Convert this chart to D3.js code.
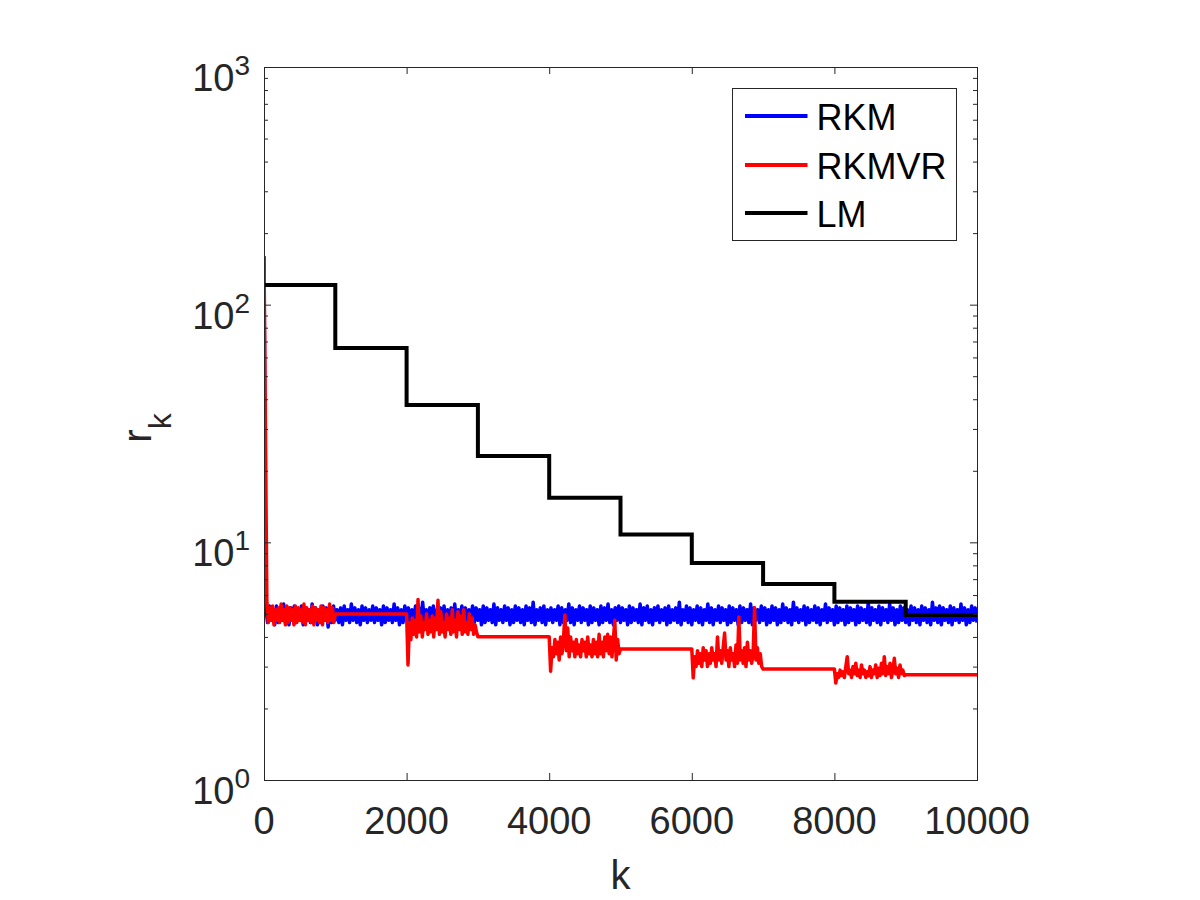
<!DOCTYPE html>
<html>
<head>
<meta charset="utf-8">
<script src="https://cdn.jsdelivr.net/npm/d3@7"></script>
<style>
  body { margin: 0; background: #fff; }
  text { font-family: "Liberation Sans", Arial, Helvetica, sans-serif; }
</style>
</head>
<body>
<svg id="chart" width="1200" height="900"></svg>
<script>
// axis ticks
var xTicks = [0, 2000, 4000, 6000, 8000, 10000];
var yTicks = [1, 10, 100, 1000];
var yExp = ["0", "1", "2", "3"];

var names = ["RKM", "RKMVR", "LM"];
var colors = ["#0000ff", "#ff0000", "#000000"];

// RKM residual, one value every 25 iterations (k = 0 .. 10000)
var rkmStep = 25;
var rkmR = [160,
  5.3,4.6,5.4,4.7,5.2,4.5,5.4,4.6,5.3,4.7,5.5,4.6,5.2,4.5,5.3,4.7,5.4,4.6,5.2,4.7,
  5.4,4.5,5.3,4.7,5.2,4.6,5.5,4.7,5.3,4.5,5.2,4.6,5.4,4.7,5.3,4.4,5.2,4.6,5.4,4.7,
  5.2,4.6,5.3,4.5,5.4,4.7,5.2,4.6,5.5,4.7,5.3,4.6,5.2,4.5,5.4,4.7,5.3,4.6,5.2,4.7,
  5.4,4.6,5.3,4.7,5.2,4.5,5.4,4.6,5.3,4.7,5.2,4.6,5.5,4.7,5.3,4.5,5.2,4.6,5.4,4.7,
  5.3,4.5,5.2,4.7,5.4,4.6,5.3,4.7,5.6,4.6,5.2,4.5,5.3,4.7,5.4,4.6,5.2,4.7,5.3,4.5,
  5.4,4.6,5.2,4.7,5.3,4.5,5.5,4.6,5.2,4.7,5.4,4.6,5.3,4.5,5.2,4.7,5.4,4.6,5.3,4.7,
  5.2,4.5,5.4,4.6,5.3,4.7,5.2,4.6,5.5,4.5,5.3,4.7,5.2,4.6,5.4,4.7,5.3,4.5,5.2,4.6,
  5.4,4.7,5.3,4.6,5.2,4.5,5.4,4.7,5.3,4.6,5.6,4.5,5.2,4.7,5.3,4.6,5.4,4.5,5.2,4.7,
  5.3,4.6,5.2,4.7,5.4,4.5,5.3,4.6,5.2,4.7,5.5,4.6,5.3,4.5,5.2,4.7,5.4,4.6,5.3,4.7,
  5.2,4.5,5.4,4.6,5.3,4.7,5.2,4.5,5.4,4.6,5.3,4.7,5.5,4.6,5.2,4.5,5.3,4.7,5.4,4.6,
  5.3,4.7,5.2,4.5,5.4,4.6,5.3,4.7,5.2,4.6,5.5,4.5,5.3,4.7,5.4,4.6,5.2,4.5,5.3,4.7,
  5.4,4.6,5.2,4.7,5.3,4.5,5.4,4.6,5.2,4.7,5.3,4.6,5.6,4.5,5.2,4.7,5.4,4.6,5.3,4.5,
  5.2,4.7,5.4,4.6,5.3,4.5,5.2,4.7,5.5,4.6,5.3,4.5,5.2,4.7,5.4,4.6,5.3,4.7,5.2,4.5,
  5.4,4.6,5.3,4.7,5.2,4.5,5.4,4.6,5.3,4.7,5.2,4.6,5.5,4.5,5.3,4.7,5.2,4.6,5.4,4.7,
  5.3,4.5,5.2,4.6,5.4,4.7,5.3,4.5,5.2,4.6,5.5,4.7,5.3,4.6,5.2,4.5,5.6,4.7,5.3,4.6,
  5.2,4.7,5.4,4.5,5.3,4.6,5.2,4.7,5.4,4.6,5.3,4.5,5.2,4.7,5.5,4.6,5.3,4.7,5.2,4.5,
  5.4,4.6,5.3,4.7,5.2,4.5,5.4,4.6,5.3,4.7,5.2,4.5,5.4,4.6,5.3,4.7,5.2,4.6,5.6,4.5,
  5.3,4.7,5.2,4.6,5.4,4.5,5.3,4.7,5.2,4.6,5.5,4.7,5.3,4.5,5.2,4.6,5.4,4.7,5.3,4.6,
  5.2,4.5,5.4,4.7,5.3,4.6,5.2,4.5,5.4,4.7,5.3,4.6,5.2,4.5,5.6,4.7,5.3,4.6,5.4,4.5,
  5.3,4.7,5.2,4.6,5.4,4.5,5.3,4.7,5.2,4.6,5.5,4.7,5.3,4.5,5.2,4.6,5.4,4.7,5.3,4.6
];

// RKMVR: noisy stretch every other 1000 iterations (one value every 20),
// then a flat stretch for the next 1000
var rkmvrNoisy = [
  [160,30,5.6,4.6,5.3,4.7,5.4,4.5,5.2,4.7,5.3,4.6,5.5,4.7,5.2,4.5,5.4,4.6,5.3,4.7,
   5.2,4.5,5.4,4.6,5.3,4.7,5.2,4.6,5.5,4.5,5.3,4.7,5.2,4.6,5.4,4.5,5.3,4.7,5.2,4.6,
   5.4,4.5,5.3,4.7,5.2,4.6,5.5,4.7,5.3,4.6,5.0],
  [5.0,3.05,4.6,3.9,4.8,4.1,4.7,4.0,5.75,4.2,4.9,4.0,4.6,4.3,5.0,4.1,4.7,4.2,4.9,4.0,
   4.8,4.3,5.7,4.1,5.1,4.2,4.6,4.0,5.0,4.3,4.8,4.1,5.2,4.2,4.7,4.0,5.1,4.3,4.9,4.1,
   5.2,4.2,4.6,4.1,5.0,4.3,4.8,4.1,4.5,4.2,4.01],
  [4.01,2.87,3.6,3.3,3.9,3.4,3.8,3.2,4.0,3.4,3.9,4.95,3.5,4.36,3.3,4.0,3.5,3.8,3.3,3.9,
   3.4,3.7,3.3,3.9,3.5,3.8,3.3,4.0,3.4,3.7,3.3,3.9,3.4,3.8,3.3,4.1,3.4,3.8,3.3,4.0,
   3.5,4.1,3.4,4.0,3.3,3.9,4.7,3.2,3.9,3.4,3.56],
  [3.56,2.69,3.3,3.0,3.5,3.1,3.4,3.0,3.6,3.2,3.5,3.0,3.4,3.1,3.6,3.2,3.4,3.0,4.0,3.2,
   3.5,3.1,3.6,4.15,3.2,3.5,3.0,3.6,3.2,3.4,3.0,3.7,3.1,4.85,3.2,3.5,3.1,3.6,3.0,3.8,
   3.2,3.5,3.1,3.4,5.3,3.2,3.6,3.1,3.4,3.0,2.93],
  [2.93,2.56,2.8,2.7,2.9,2.75,2.85,2.7,3.0,3.3,2.8,2.9,2.7,3.0,2.8,3.1,2.75,2.9,2.7,3.05,
   2.8,2.9,2.7,2.85,2.75,3.0,2.7,2.9,2.8,3.05,2.7,2.95,2.75,3.1,2.8,3.3,2.75,3.0,2.8,3.1,
   2.7,2.9,3.25,2.8,2.95,2.7,3.05,2.8,2.9,2.75,2.77]
];
var rkmvrFlat = [5.0, 4.01, 3.56, 2.93, 2.77];

// LM: one level per 1000 iterations
var lmLevels = [121, 65.7, 37.8, 23.1, 15.4, 10.8, 8.19, 6.68, 5.63, 4.95];

var margin = { left: 264, top: 67 },
    width = 713,
    height = 713;

var svg = d3.select("#chart");
svg.append("rect").attr("width", 1200).attr("height", 900).attr("fill", "#fff");

var x = d3.scaleLinear().domain([0, 10000]).range([0, width]);
var y = d3.scaleLog().domain([1, 1000]).range([height, 0]);

var g = svg.append("g").attr("transform", "translate(" + margin.left + "," + margin.top + ")");

g.append("clipPath").attr("id", "clip")
  .append("rect").attr("width", width).attr("height", height);

// series points
var rkmPts = rkmR.map(function (v, i) { return [i * rkmStep, v]; });
var rkmvrPts = [];
rkmvrNoisy.forEach(function (seg, s) {
  var start = s * 2000;
  seg.forEach(function (v, i) {
    rkmvrPts.push([start + i * 1000 / (seg.length - 1), v]);
  });
  rkmvrPts.push([start + 2000, rkmvrFlat[s]]);
});
var lmPts = lmLevels.map(function (v, i) { return [i * 1000, v]; });
lmPts.push([10000, lmLevels[lmLevels.length - 1]]);

var line = d3.line()
  .x(function (d) { return x(d[0]); })
  .y(function (d) { return y(d[1]); });
var stepLine = d3.line()
  .curve(d3.curveStepAfter)
  .x(function (d) { return x(d[0]); })
  .y(function (d) { return y(d[1]); });

var plot = g.append("g").attr("clip-path", "url(#clip)");
plot.append("path").datum(rkmPts).attr("d", line)
  .attr("fill", "none").attr("stroke", colors[0]).attr("stroke-width", 3.5).attr("stroke-linejoin", "round");
plot.append("path").datum(rkmvrPts).attr("d", line)
  .attr("fill", "none").attr("stroke", colors[1]).attr("stroke-width", 3.5).attr("stroke-linejoin", "round");
plot.append("path").datum(lmPts).attr("d", stepLine)
  .attr("fill", "none").attr("stroke", colors[2]).attr("stroke-width", 4);

// axes (MATLAB style: box, ticks pointing inward)
var axisColor = "#262626";
var minorTicks = y.ticks().filter(function (t) { return yTicks.indexOf(t) < 0; });

function styleAxis(sel) {
  sel.select(".domain").remove();
  sel.selectAll(".tick line").attr("stroke", axisColor);
}

g.append("g").attr("transform", "translate(0," + height + ")")
  .call(d3.axisBottom(x).tickValues(xTicks).tickSize(-7).tickFormat(""))
  .call(styleAxis);
g.append("g")
  .call(d3.axisTop(x).tickValues(xTicks).tickSize(-7).tickFormat(""))
  .call(styleAxis);
g.append("g")
  .call(d3.axisLeft(y).tickValues(yTicks).tickSize(-7).tickFormat(""))
  .call(styleAxis);
g.append("g")
  .call(d3.axisLeft(y).tickValues(minorTicks).tickSize(-4).tickFormat(""))
  .call(styleAxis);
g.append("g").attr("transform", "translate(" + width + ",0)")
  .call(d3.axisRight(y).tickValues(yTicks).tickSize(-7).tickFormat(""))
  .call(styleAxis);
g.append("g").attr("transform", "translate(" + width + ",0)")
  .call(d3.axisRight(y).tickValues(minorTicks).tickSize(-4).tickFormat(""))
  .call(styleAxis);

g.append("rect").attr("x", 0.5).attr("y", 0.5).attr("width", width).attr("height", height)
  .attr("fill", "none").attr("stroke", axisColor).attr("stroke-width", 1);

// tick labels
g.selectAll(".xlab").data(xTicks).enter().append("text")
  .attr("x", function (d) { return x(d); })
  .attr("y", height + 54)
  .attr("text-anchor", "middle")
  .attr("font-size", 38)
  .attr("fill", axisColor)
  .text(function (d) { return d; });

var ylab = g.selectAll(".ylab").data(yTicks).enter().append("text")
  .attr("x", -14)
  .attr("y", function (d) { return y(d) + 24; })
  .attr("text-anchor", "end")
  .attr("font-size", 38)
  .attr("fill", axisColor);
ylab.append("tspan").text("10");
ylab.append("tspan").attr("dy", -16).attr("font-size", 28)
  .text(function (d, i) { return yExp[i]; });

// axis titles
g.append("text")
  .attr("x", width / 2).attr("y", height + 109)
  .attr("text-anchor", "middle")
  .attr("font-size", 40)
  .attr("fill", axisColor)
  .text("k");

var yt = g.append("text")
  .attr("transform", "translate(" + (151 - margin.left) + "," + (428 - margin.top) + ") rotate(-90)")
  .attr("text-anchor", "middle")
  .attr("font-size", 40)
  .attr("fill", axisColor);
yt.append("tspan").text("r");
yt.append("tspan").attr("dy", 20).attr("font-size", 32).text("k");

// legend
var leg = svg.append("g").attr("transform", "translate(732.5,88.5)");
leg.append("rect").attr("width", 224).attr("height", 152)
  .attr("fill", "#fff").attr("stroke", axisColor).attr("stroke-width", 1);
var rowY = [27.5, 76.5, 124.5];
names.forEach(function (n, i) {
  leg.append("line")
    .attr("x1", 12.5).attr("x2", 75)
    .attr("y1", rowY[i]).attr("y2", rowY[i])
    .attr("stroke", colors[i]).attr("stroke-width", 4);
  leg.append("text")
    .attr("x", 84).attr("y", rowY[i] + 14)
    .attr("font-size", 36)
    .attr("fill", "#000")
    .text(n);
});
</script>
</body>
</html>
